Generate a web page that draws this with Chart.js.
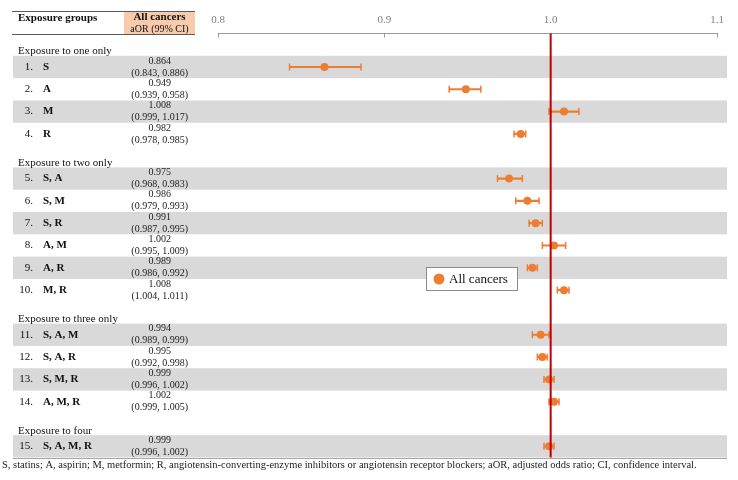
<!DOCTYPE html>
<html><head><meta charset="utf-8">
<script src="https://cdn.jsdelivr.net/npm/chart.js@4/dist/chart.umd.min.js"></script>
<style>html,body{margin:0;padding:0;background:#fff}canvas{display:block}</style>
</head><body>
<canvas id="c" width="738" height="480"></canvas>
<script>
const sections = ['Exposure to one only', 'Exposure to two only', 'Exposure to three only', 'Exposure to four'];
const sectionSizes = [4, 6, 4, 1];
const groups = ['S', 'A', 'M', 'R', 'S, A', 'S, M', 'S, R', 'A, M', 'A, R', 'M, R', 'S, A, M', 'S, A, R', 'S, M, R', 'A, M, R', 'S, A, M, R'];
const aor    = [0.864, 0.949, 1.008, 0.982, 0.975, 0.986, 0.991, 1.002, 0.989, 1.008, 0.994, 0.995, 0.999, 1.002, 0.999];
const ciLow  = [0.843, 0.939, 0.999, 0.978, 0.968, 0.979, 0.987, 0.995, 0.986, 1.004, 0.989, 0.992, 0.996, 0.999, 0.996];
const ciHigh = [0.886, 0.958, 1.017, 0.985, 0.983, 0.993, 0.995, 1.009, 0.992, 1.011, 0.999, 0.998, 1.002, 1.005, 1.002];
const xTickLabels = ['0.8', '0.9', '1.0', '1.1'];
const refValue = 1.0;
const seriesName = 'All cancers';
const headerGroups = 'Exposure groups';
const headerCol = ['All cancers', 'aOR (99% CI)'];
const footnote = 'S, statins; A, aspirin; M, metformin; R, angiotensin-converting-enzyme inhibitors or angiotensin receptor blockers; aOR, adjusted odds ratio; CI, confidence interval.';

const SERIF = "'Liberation Serif', 'Times New Roman', serif";
const ORANGE = '#ED7D31';

// slots: section header rows + data rows
const slotLabels = [], slotRow = [];
let rr = 0;
sections.forEach((s, si) => {
  slotLabels.push(s); slotRow.push(-1);
  for (let k = 0; k < sectionSizes[si]; k++) {
    slotLabels.push((rr + 1) + '. ' + groups[rr]); slotRow.push(rr); rr++;
  }
});
const bySlot = arr => slotRow.map(i => i < 0 ? null : arr[i]);

const tablePlugin = {
  id: 'tablePlugin',
  beforeDraw(chart) {
    const ctx = chart.ctx, ys = chart.scales.y, ca = chart.chartArea;
    ctx.save();
    ctx.fillStyle = '#fff';
    ctx.fillRect(0, 0, chart.width, chart.height);
    const half = (ys.getPixelForValue(1) - ys.getPixelForValue(0)) / 2;
    // bands
    ctx.fillStyle = '#d9d9d9';
    slotRow.forEach((r, i) => {
      if (r >= 0 && r % 2 === 0) {
        const yc = ys.getPixelForValue(i);
        ctx.fillRect(13, yc - half, 727 - 13, half * 2);
      }
    });
    // header
    ctx.fillStyle = '#f8cbad';
    ctx.fillRect(124, 11, 71, 23);
    ctx.strokeStyle = '#595959'; ctx.lineWidth = 1;
    ctx.beginPath(); ctx.moveTo(12, 11.5); ctx.lineTo(195, 11.5); ctx.moveTo(12, 34.5); ctx.lineTo(195, 34.5); ctx.stroke();
    ctx.strokeStyle = '#a6a6a6';
    ctx.beginPath(); ctx.moveTo(13, Math.round(ca.bottom) + 0.5); ctx.lineTo(727, Math.round(ca.bottom) + 0.5); ctx.stroke();
    ctx.fillStyle = '#111';
    ctx.textBaseline = 'middle';
    ctx.textAlign = 'left';
    ctx.font = 'bold 11px ' + SERIF;
    ctx.fillText(headerGroups, 18, 18);
    ctx.textAlign = 'center';
    ctx.fillText(headerCol[0], 159.5, 17);
    ctx.font = '10px ' + SERIF;
    ctx.fillText(headerCol[1], 159.5, 29);
    // row labels
    slotRow.forEach((r, i) => {
      const yc = ys.getPixelForValue(i);
      if (r < 0) {
        ctx.textAlign = 'left'; ctx.textBaseline = 'alphabetic';
        ctx.font = '11px ' + SERIF;
        ctx.fillText(slotLabels[i], 18, yc + half - 1.5);
      } else {
        ctx.textBaseline = 'middle';
        ctx.textAlign = 'right';
        ctx.font = '11px ' + SERIF;
        ctx.fillText((r + 1) + '.', 33, yc);
        ctx.textAlign = 'left';
        ctx.font = 'bold 11px ' + SERIF;
        ctx.fillText(groups[r], 43, yc);
      }
    });
    ctx.restore();
  },
  afterDatasetsDraw(chart) {
    const ctx = chart.ctx, xs = chart.scales.x, ca = chart.chartArea;
    const x = xs.getPixelForValue(refValue);
    ctx.save();
    ctx.strokeStyle = '#c00000'; ctx.lineWidth = 2;
    ctx.beginPath(); ctx.moveTo(x, ca.top); ctx.lineTo(x, ca.bottom); ctx.stroke();
    ctx.restore();
  },
  afterDraw(chart) {
    const ctx = chart.ctx;
    const ds = chart.data.datasets[0];
    ctx.save();
    ctx.fillStyle = '#fff'; ctx.strokeStyle = '#8c8c8c'; ctx.lineWidth = 1;
    ctx.fillRect(426.5, 267.5, 91, 23); ctx.strokeRect(426.5, 267.5, 91, 23);
    ctx.fillStyle = ds.pointBackgroundColor;
    ctx.beginPath(); ctx.arc(439, 279, 5.5, 0, Math.PI * 2); ctx.fill();
    ctx.fillStyle = '#111'; ctx.font = '13px ' + SERIF; ctx.textBaseline = 'middle'; ctx.textAlign = 'left';
    ctx.fillText(ds.label, 449, 279.5);
    ctx.restore();
  }
};

new Chart(document.getElementById('c'), {
  type: 'bar',
  data: {
    labels: slotLabels,
    datasets: [
      { type: 'line', label: seriesName, data: bySlot(aor), indexAxis: 'y', showLine: false,
        pointRadius: 4, pointBackgroundColor: ORANGE, pointBorderColor: ORANGE, pointBorderWidth: 0, order: 0 },
      { type: 'line', label: 'low', data: bySlot(ciLow), indexAxis: 'y', showLine: false,
        pointStyle: 'line', pointRotation: 90, pointRadius: 3.5, pointBorderWidth: 1.5, pointBorderColor: ORANGE, borderColor: ORANGE, order: 1 },
      { type: 'line', label: 'high', data: bySlot(ciHigh), indexAxis: 'y', showLine: false,
        pointStyle: 'line', pointRotation: 90, pointRadius: 3.5, pointBorderWidth: 1.5, pointBorderColor: ORANGE, borderColor: ORANGE, order: 1 },
      { type: 'bar', label: 'CI', data: slotRow.map(i => i < 0 ? null : [ciLow[i], ciHigh[i]]), indexAxis: 'y',
        barThickness: 1.5, backgroundColor: ORANGE, borderWidth: 0, order: 2 }
    ]
  },
  options: {
    indexAxis: 'y',
    responsive: false,
    animation: false,
    devicePixelRatio: 1,
    layout: { padding: { left: 2, right: 21, top: 2.3, bottom: 8.4 } },
    scales: {
      x: {
        type: 'linear', position: 'top', min: 0.8, max: 1.1,
        ticks: { stepSize: 0.1, padding: 11, color: '#7f7f7f', font: { family: SERIF, size: 11 },
          callback: (v, i) => xTickLabels[i] },
        grid: { drawOnChartArea: false, drawTicks: true, tickLength: -4, color: '#9a9a9a' },
        border: { display: true, color: '#9a9a9a', width: 1 }
      },
      y: {
        type: 'category', position: 'left', offset: true,
        ticks: { autoSkip: false, crossAlign: 'center', padding: 0, color: '#222',
          font: { family: SERIF, size: 10, lineHeight: 1.2 },
          callback: (v, i) => {
            const r = slotRow[i];
            if (r < 0) return '';
            return [aor[r].toFixed(3), '(' + ciLow[r].toFixed(3) + ', ' + ciHigh[r].toFixed(3) + ')'];
          } },
        grid: { display: false, drawTicks: true, tickLength: 30, color: 'rgba(0,0,0,0)' },
        border: { display: false },
        afterFit: s => { s.width = 216; }
      }
    },
    plugins: {
      legend: { display: false },
      tooltip: { enabled: false },
      title: { display: true, position: 'bottom', align: 'start', text: footnote, color: '#222',
        font: { family: SERIF, size: 10.5, weight: 'normal' }, padding: { top: 1.5, bottom: 0 } }
    }
  },
  plugins: [tablePlugin]
});
</script>
</body></html>
